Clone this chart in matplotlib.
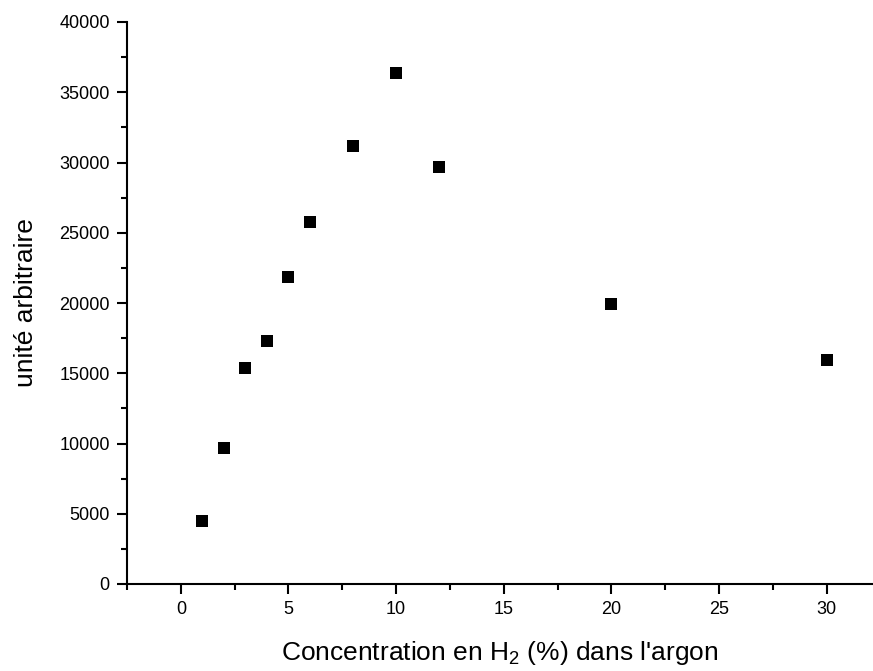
import matplotlib
matplotlib.use("Agg")
import matplotlib.pyplot as plt
from matplotlib.ticker import MultipleLocator

plt.rcParams['font.family'] = ['Liberation Sans', 'DejaVu Sans']
plt.rcParams['mathtext.fontset'] = 'custom'
plt.rcParams['mathtext.rm'] = 'Liberation Sans'
plt.rcParams['mathtext.it'] = 'Liberation Sans'

concentration = [1, 2, 3, 4, 5, 6, 8, 10, 12, 20, 30]
intensity = [4480, 9660, 15350, 17290, 21830, 25790, 31170, 36390, 29680, 19930, 15940]

fig = plt.figure(figsize=(8.73, 6.71), dpi=100)
ax = fig.add_axes([127/873, 1-584/671, (872-127)/873, (584-22)/671])

ax.plot(concentration, intensity, linestyle='none', marker='s', markersize=8,
        color='black', markeredgewidth=0)

ax.set_xlim(-2.5, 32.1)
ax.set_ylim(0, 40000)
ax.xaxis.set_major_locator(MultipleLocator(5))
ax.xaxis.set_minor_locator(MultipleLocator(2.5))
ax.yaxis.set_major_locator(MultipleLocator(5000))
ax.yaxis.set_minor_locator(MultipleLocator(2500))

for s in ['top', 'right']:
    ax.spines[s].set_visible(False)
for s in ['left', 'bottom']:
    ax.spines[s].set_linewidth(1.5)

ax.tick_params(which='major', direction='out', length=7.5, width=1.5, labelsize=13, pad=5)
ax.tick_params(which='minor', direction='out', length=4.5, width=1.5)

ax.set_xlabel("Concentration en H$_2$ (%) dans l'argon", fontsize=19, labelpad=15)
ax.set_ylabel("unité arbitraire", fontsize=19, labelpad=15)

fig.savefig("out.png", dpi=100)
